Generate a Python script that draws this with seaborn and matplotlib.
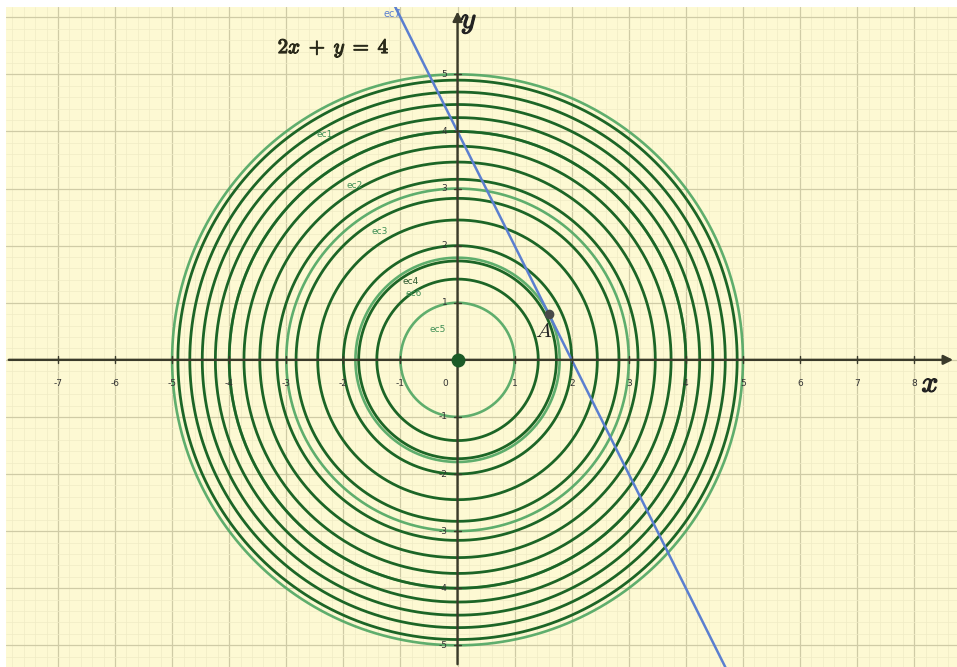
import numpy as np
import pandas as pd
import matplotlib
matplotlib.use("Agg")
import matplotlib.pyplot as plt
import matplotlib.patheffects as pe
import seaborn as sns

sns.set_theme(style="white")
plt.rcParams["mathtext.fontset"] = "cm"

# level values k of x^2 + y^2 = k
dark_levels = [2, 3, 4, 6, 8, 10, 12, 14, 16, 18, 20, 22, 24]
light_levels = [1, 3.2, 9, 16, 25]
light_names = ["ec5", "ec6", "ec3", "ec2", "ec1"]

# line a*x + b*y = c
line_a, line_b, line_c = 2, 1, 4
point_A = (1.6, 0.8)

x_ticks = [-7, -6, -5, -4, -3, -2, -1, 0, 1, 2, 3, 4, 5, 6, 7, 8]
y_ticks = [-5, -4, -3, -2, -1, 1, 2, 3, 4, 5]

XMIN, XMAX = -7.91, 8.75
YMIN, YMAX = -5.38, 6.18

dark_col = "#1c6526"
light_col = "#4ea662"
axis_col = "#3a3a2a"
bold = [pe.withStroke(linewidth=0.9, foreground="#222")]

fig = plt.figure(figsize=(9.57, 6.67), dpi=100)
ax = fig.add_axes([6 / 957, 0, 951 / 957, 660 / 667])
ax.set_facecolor("#fdf9d3")

t = np.linspace(0, 2 * np.pi, 721)
rows = []
for k in dark_levels:
    r = np.sqrt(k)
    rows.append(pd.DataFrame({"x": r * np.cos(t), "y": r * np.sin(t), "c": f"d{k}"}))
dark_df = pd.concat(rows)
rows = []
for k, nm in zip(light_levels, light_names):
    r = np.sqrt(k)
    rows.append(pd.DataFrame({"x": r * np.cos(t), "y": r * np.sin(t), "c": nm}))
light_df = pd.concat(rows)

sns.lineplot(data=light_df, x="x", y="y", units="c", estimator=None, sort=False,
             color=light_col, lw=1.9, alpha=0.9, ax=ax, zorder=3)
sns.lineplot(data=dark_df, x="x", y="y", units="c", estimator=None, sort=False,
             color=dark_col, lw=2.0, ax=ax, zorder=4)

# the line 2x + y = 4
lx = np.array([-1.3, 5.0])
ly = (line_c - line_a * lx) / line_b
sns.lineplot(x=lx, y=ly, color="#5b7fd0", lw=1.8, ax=ax, zorder=6)

# axes with arrows
ax.annotate("", xy=(XMAX - 0.02, 0), xytext=(XMIN, 0),
            arrowprops=dict(arrowstyle="-|>", color=axis_col, lw=1.7, mutation_scale=14),
            zorder=7)
ax.annotate("", xy=(0, YMAX - 0.03), xytext=(0, YMIN),
            arrowprops=dict(arrowstyle="-|>", color=axis_col, lw=1.7, mutation_scale=14),
            zorder=7)

# grid
ax.set_xticks(np.arange(-8, 9, 1))
ax.set_yticks(np.arange(-6, 7, 1))
ax.set_xticks(np.arange(-8, 9, 0.2), minor=True)
ax.set_yticks(np.arange(-6, 7, 0.2), minor=True)
ax.grid(which="major", color="#cfcba6", lw=0.9, zorder=0)
ax.grid(which="minor", color="#f0ecc6", lw=0.5, zorder=0)
ax.set_axisbelow(True)
ax.tick_params(which="both", length=0, labelbottom=False, labelleft=False)
for s in ax.spines.values():
    s.set_visible(False)

# tick labels
for v in x_ticks:
    ax.text(v - (0.22 if v == 0 else 0), -0.42, str(v), fontsize=6.5, color="#333",
            ha="center", va="center", zorder=8)
    ax.plot([v, v], [-0.06, 0.06], color=axis_col, lw=1, zorder=7)
for v in y_ticks:
    ax.text(-0.18, v, str(v), fontsize=6.5, color="#333", ha="right", va="center", zorder=8)
    ax.plot([-0.06, 0.06], [v, v], color=axis_col, lw=1, zorder=7)

ax.text(8.28, -0.42, r"$x$", fontsize=21, color="#222", ha="center", va="center",
        zorder=8, path_effects=bold)
ax.text(0.2, 5.92, r"$y$", fontsize=21, color="#222", ha="center", va="center",
        zorder=8, path_effects=bold)
ax.text(-3.15, 5.46, r"$2x\;+\;y\;=\;4$", fontsize=15, color="#2a2a1a", ha="left",
        va="center", zorder=8,
        path_effects=[pe.withStroke(linewidth=0.8, foreground="#2a2a1a")])

# conic labels
lab_pos = {"ec1": (-2.32, 3.94), "ec2": (-1.8, 3.06), "ec3": (-1.36, 2.24),
           "ec6": (-0.76, 1.17), "ec5": (-0.35, 0.53)}
for nm, (px, py) in lab_pos.items():
    ax.text(px, py, nm, fontsize=6.5, color="#3f8f55", ha="center", va="center", zorder=8)
ax.text(-0.83, 1.38, "ec4", fontsize=6.5, color="#2e5a30", ha="center", va="center", zorder=8)
ax.text(-1.15, 6.05, "ec7", fontsize=7, color="#5b7fd0", ha="center", va="center", zorder=8)

# points
ax.plot(0, 0, "o", color="#1b5a26", ms=9, zorder=9)
ax.plot(*point_A, "o", color="#4a4a4a", ms=6, zorder=9)
ax.text(point_A[0] - 0.1, point_A[1] - 0.3, r"$A$", fontsize=15, color="#222",
        ha="center", va="center", zorder=9)

ax.set_xlim(XMIN, XMAX)
ax.set_ylim(YMIN, YMAX)
ax.set_xlabel("")
ax.set_ylabel("")
fig.savefig("out.png", dpi=100, facecolor="white")
